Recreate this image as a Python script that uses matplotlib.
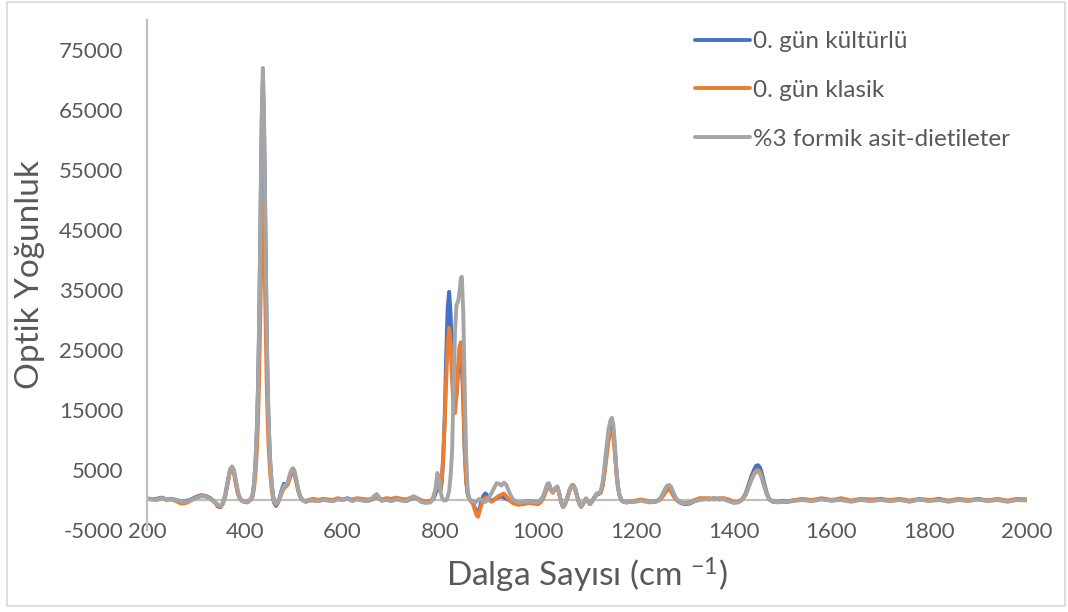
import matplotlib
matplotlib.use("Agg")
import matplotlib.pyplot as plt
from matplotlib.patches import Rectangle

plt.rcParams['font.family'] = ['Lato', 'DejaVu Sans']
plt.rcParams['mathtext.fontset'] = 'custom'
plt.rcParams['mathtext.rm'] = 'Lato'
plt.rcParams['mathtext.it'] = 'Lato'

# Raman spectra: shared wavenumber grid (cm-1) and intensities per sample
wavenumber = [
    200, 210, 220, 230, 240, 250, 260, 270, 280, 290, 300, 310, 320, 330, 340, 345, 350, 355,
    360, 365, 370, 374, 378, 382, 386, 390, 395, 400, 405, 410,
    413, 416, 419, 422, 425, 427, 429, 431, 433, 435, 437, 439, 441, 443, 445, 447, 449, 452, 455, 458,
    460, 464, 468, 472, 476, 480, 484, 488, 492, 496, 499, 502, 505, 509, 513, 518, 525, 530,
    540, 550, 560, 570, 580, 590, 600, 610, 620, 630, 640, 650, 660, 665, 670, 675, 680, 690,
    700, 710, 720, 730, 740, 745, 750, 760, 770, 780, 785,
    790, 794, 797, 800, 803, 806, 809, 812, 815, 818, 821, 824, 827, 830, 833, 836, 839, 842,
    844, 847, 850, 853, 856, 859, 862,
    866, 870, 874, 877, 880, 884, 888, 892, 896, 900, 905, 910, 915, 920, 925, 930, 935, 940,
    945, 950, 960, 970, 980, 990,
    1000, 1005, 1010, 1015, 1019, 1022, 1026, 1030, 1034, 1039, 1043, 1047, 1051, 1055, 1060,
    1065, 1069, 1072, 1076, 1080, 1084, 1088, 1093, 1098, 1102, 1106, 1110, 1115, 1120, 1124,
    1128, 1132, 1136, 1140, 1144, 1148, 1151, 1154, 1157, 1160, 1163, 1166, 1170, 1175, 1180,
    1190, 1200,
    1210, 1220, 1230, 1240, 1248, 1254, 1259, 1264, 1268, 1272, 1276, 1281, 1286, 1292, 1300,
    1310, 1320, 1330, 1340, 1350, 1360, 1370, 1380, 1390, 1400, 1410, 1418, 1424, 1430, 1436,
    1442, 1446, 1450, 1454, 1458, 1463, 1468, 1473, 1480, 1490, 1500, 1510, 1520,
    1540, 1560, 1580, 1600, 1620, 1640, 1660, 1680, 1700, 1720, 1740, 1760, 1780, 1800, 1820,
    1840, 1860, 1880, 1900, 1920, 1940, 1960, 1980, 2000,
]

gun0_kulturlu = [
    300, 100, 200, 400, 100, 200, 0, -300, -200, 100, 500, 800, 700, 300, -500, -1100, -1200, -600,
    800, 3000, 5000, 5400, 4600, 2800, 1200, 300, -200, -300, -400, -100,
    200, 900, 2700, 6300, 12200, 18500, 27000, 39000, 52500, 64000, 70000, 64000, 52500, 39000, 27000, 18500, 12200, 6300, 2700, 600,
    -500, -1000, -400, 600, 1800, 2700, 2600, 2700, 3700, 4500, 4800, 4300, 3200, 1700, 600, 0, -300, -100,
    0, -200, 100, 0, -200, 200, 0, 300, -100, 200, 0, -200, 100, 500, 600, 300, -100, 100,
    -100, 200, 0, -200, 200, 500, 300, -100, -300, -200, 100,
    1000, 2200, 1800, 1500, 3000, 7000, 14000, 24000, 32000, 34700, 31000, 24000, 18000, 16000, 17500, 21000, 23000, 23500,
    22500, 16000, 8000, 3000, 1000, 200, 0,
    -300, -1200, -2000, -2200, -1500, -300, 700, 1100, 800, 200, -200, 100, 300, 500, 600, 400, 200, 0,
    -200, -400, -500, -300, -200, -300,
    -300, -100, 500, 1500, 2500, 2700, 1800, 1300, 1800, 2200, 1200, -300, -1100, -700, 500,
    1800, 2400, 2500, 1800, 600, -500, -1100, -500, 200, -200, -700, -300, 400, 900, 1000,
    1200, 2500, 5000, 8000, 11000, 12300, 12500, 11500, 8500, 5000, 2500, 1000, 0, -300, -400,
    -300, -200,
    0, -200, -300, -300, 0, 600, 1300, 1800, 1900, 1600, 900, 200, -200, -500, -700,
    -600, -200, 100, 200, 100, 300, 100, 200, -100, -400, -300, 200, 1000, 2400, 3900,
    5100, 5700, 5800, 5400, 4300, 2600, 1100, 100, -300, -300, -200, -300, -100,
    100, -100, 200, -100, 100, -200, 100, -100, 200, -100, 100, -200, 100, -100, 200,
    -200, 100, -100, 200, -100, 100, -200, 100, 0,
]

gun0_klasik = [
    200, 100, 0, 300, 0, 100, -200, -600, -500, -100, 400, 700, 600, 200, -500, -1000, -1100, -600,
    600, 2700, 4800, 5100, 4500, 2600, 1000, 200, -200, -200, -300, 0,
    100, 600, 1900, 4500, 8600, 13000, 19000, 27500, 37000, 45000, 49500, 45000, 37000, 27500, 19000, 13000, 8500, 4400, 1800, 300,
    -500, -800, -300, 400, 1200, 2000, 2200, 2600, 3700, 4600, 4800, 4300, 3200, 1700, 600, 0, -200, 0,
    200, 0, 200, 100, 0, 300, 100, 200, 100, 300, 200, 100, 200, 400, 500, 200, 100, 300,
    200, 400, 200, 100, 400, 600, 400, 0, -300, -100, 300,
    1600, 3000, 2500, 2000, 3500, 7500, 13000, 20000, 26000, 28700, 26000, 20000, 15500, 14500, 17500, 22000, 25500, 26300,
    25000, 17000, 8000, 3000, 1000, 200, -200,
    -500, -1500, -2500, -2800, -2000, -800, 0, 400, 400, 0, -300, 0, 400, 700, 900, 1100, 600, 100,
    -300, -600, -800, -700, -500, -600,
    -700, -400, 200, 1200, 2200, 2500, 1600, 1200, 1700, 2100, 1100, -400, -1200, -800, 400,
    1700, 2300, 2400, 1700, 500, -600, -1100, -500, 200, -200, -600, -200, 500, 1000, 1100,
    1300, 2300, 4500, 7200, 9800, 11200, 11500, 10600, 7800, 4600, 2200, 900, 0, -300, -300,
    -200, -100,
    100, -100, -300, -200, 0, 500, 1100, 1600, 1700, 1400, 800, 200, -100, -400, -500,
    -400, 0, 300, 300, 300, 200, 300, 300, 100, -300, -300, 100, 800, 2000, 3400,
    4500, 4900, 5000, 4700, 3700, 2200, 900, 100, -200, -300, -300, -200, -100,
    200, 0, 300, 0, 300, -100, 200, 100, 100, 0, 200, -100, 200, 0, 100,
    -100, 200, 0, 100, -100, 200, -100, 200, 100,
]

formik_asit_dietileter = [
    200, 100, 100, 300, 100, 200, 0, -300, -300, 0, 300, 600, 600, 200, -400, -800, -900, -500,
    800, 3000, 5200, 5600, 5000, 3200, 1400, 300, -200, -300, -300, -100,
    200, 900, 2800, 6500, 12500, 19000, 28000, 40000, 54000, 66000, 72000, 66000, 54000, 40000, 28000, 19000, 12500, 6500, 2800, 700,
    -300, -600, -300, 500, 1500, 2400, 2500, 3000, 4300, 5100, 5300, 4800, 3600, 2000, 700, 0, -300, -100,
    -100, -200, 0, -100, -200, 100, 0, 200, -200, 100, -100, -200, 300, 700, 1000, 400, -100, 0,
    -200, 100, -100, -200, 300, 600, 400, -300, -500, -400, 200,
    1800, 4500, 3500, 1500, 500, 0, -100, 0, 500, 1500, 4000, 8000, 18000, 28000, 32500, 33000, 34500, 37000,
    37200, 31000, 18000, 7000, 1500, 200, 0,
    -200, -400, -300, 0, 200, 0, -300, -300, 0, 500, 1200, 2000, 2800, 2700, 2400, 2900, 2500, 1500,
    600, 0, -400, -300, -200, -400,
    -300, 0, 600, 1800, 2700, 2800, 1800, 1300, 1900, 2300, 1200, -300, -1200, -700, 600,
    1900, 2500, 2500, 1800, 500, -600, -1200, -500, 300, -200, -700, -300, 500, 1100, 1100,
    1500, 3000, 5800, 8800, 11800, 13300, 13700, 12500, 9300, 5300, 2600, 1000, 0, -300, -400,
    -300, -300,
    -100, -300, -400, -300, 100, 900, 1800, 2400, 2500, 2200, 1400, 500, -100, -400, -600,
    -500, -200, 0, 100, 200, 100, 200, 100, -200, -500, -400, 100, 800, 2000, 3300,
    4300, 4700, 4700, 4400, 3500, 2100, 900, 100, -300, -400, -300, -300, -200,
    0, -200, 100, -100, 0, -300, 0, -200, 0, -200, 0, -300, 100, -200, 0,
    -300, 0, -200, 100, -200, 0, -300, 0, -100,
]

series_labels = ['0. gün kültürlü', '0. gün klasik', '%3 formik asit-dietileter']
series_colors = ['#4472C4', '#ED7D31', '#A5A5A5']
y_ticks = [-5000, 5000, 15000, 25000, 35000, 45000, 55000, 65000, 75000]
x_ticks = [200, 400, 600, 800, 1000, 1200, 1400, 1600, 1800, 2000]

assert len(wavenumber) == len(gun0_kulturlu) == len(gun0_klasik) == len(formik_asit_dietileter)

W, H = 1068, 612
fig = plt.figure(figsize=(W / 100, H / 100), dpi=100)
fig.patch.set_facecolor('white')

ax = fig.add_axes([147 / W, 1 - 530 / H, 880 / W, 510 / H])
ax.set_xlim(200, 2000)
ax.set_ylim(-5000, 80000)

text_color = '#595959'
axis_color = '#BFBFBF'

ax.axhline(0, color=axis_color, lw=1.6, zorder=1)

for ys, lab, col in zip([gun0_kulturlu, gun0_klasik, formik_asit_dietileter], series_labels, series_colors):
    ax.plot(wavenumber, ys, color=col, lw=2.8, label=lab, zorder=2,
            solid_joinstyle='round', solid_capstyle='round')

for side in ['top', 'right', 'bottom']:
    ax.spines[side].set_visible(False)
ax.spines['left'].set_color(axis_color)
ax.spines['left'].set_linewidth(1.6)

ax.set_xticks(x_ticks)
ax.set_yticks(y_ticks)
ax.set_xticklabels([str(v) for v in x_ticks])
ax.set_yticklabels([str(v) for v in y_ticks])
ax.tick_params(axis='both', length=0, labelsize=16, labelcolor=text_color)
ax.tick_params(axis='x', pad=-6)
ax.tick_params(axis='y', pad=17)

ax.set_xlabel(r'Dalga Sayısı (cm $^{\mathregular{-1}}$)', fontsize=24, color=text_color, labelpad=10)
ax.set_ylabel('Optik Yoğunluk', fontsize=24, color=text_color, labelpad=10)

leg = ax.legend(loc='upper left', bbox_to_anchor=(695 / W, 1 - 31 / H), bbox_transform=fig.transFigure,
                frameon=False, fontsize=17.5, handlelength=2.26, handletextpad=0.12,
                labelspacing=1.15, borderpad=0, borderaxespad=0)
for t in leg.get_texts():
    t.set_color(text_color)

fig.add_artist(Rectangle((7 / W, 1 - 606 / H), 1058 / W, 604 / H, transform=fig.transFigure,
                         fill=False, edgecolor='#D9D9D9', lw=1.2))

fig.savefig('out.png', dpi=100)
